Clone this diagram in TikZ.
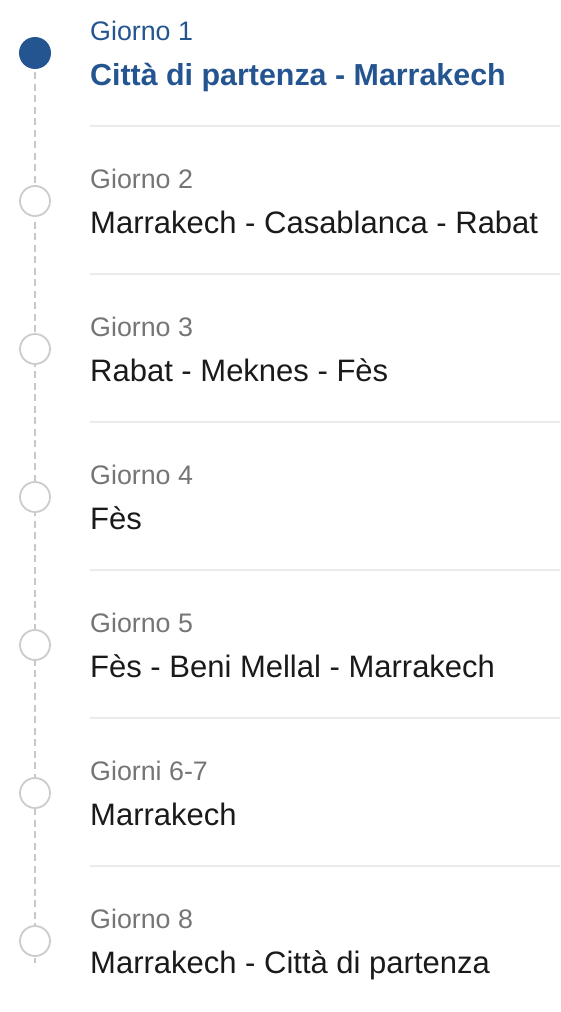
\documentclass[tikz,border=0pt]{standalone}
\usepackage{fontspec}
\setmainfont{Liberation Sans}
\definecolor{tlblue}{HTML}{245591}
\definecolor{tlgray}{HTML}{757575}
\definecolor{tltext}{HTML}{1A1A1A}
\definecolor{tlring}{HTML}{CCCCCC}
\definecolor{tldash}{HTML}{C8C8C8}
\definecolor{tlsep}{HTML}{EBEBEB}
\begin{document}
\begin{tikzpicture}[x=1pt,y=-1pt,
  daylabel/.style={anchor=base west,inner sep=0pt,text=tlgray,font=\fontsize{26.8}{30}\selectfont},
  daytitle/.style={anchor=base west,inner sep=0pt,text=tltext,font=\fontsize{31}{34}\selectfont},
  curtitle/.style={anchor=base west,inner sep=0pt,text=tlblue,font=\bfseries\fontsize{30.4}{34}\selectfont},
  curlabel/.style={daylabel,text=tlblue},
  ring/.style={circle,draw=tlring,line width=1.8pt,fill=white,minimum size=30pt,inner sep=0pt},
  curdot/.style={circle,fill=tlblue,minimum size=32pt,inner sep=0pt},
  railline/.style={draw=tldash,line width=1.6pt,dash pattern=on 7pt off 4.5pt},
  sepline/.style={draw=tlsep,line width=2pt}]
\useasboundingbox (0,0) rectangle (560,1012);
\fill[white] (0,0) rectangle (560,1012);
% rail
\coordinate (railend) at (35,963);
\coordinate (railtop) at (35,72);
\draw[railline] (railtop) -- (railend);
% markers
\node[curdot] (d1) at (35,53) {};
\foreach \i in {2,...,8}{
  \node[ring] (d\i) at (35,{53+148*(\i-1)}) {};
}
% separators
\foreach \k in {0,...,5}{
  \coordinate (sa\k) at (90,{126+148*\k});
  \coordinate (sb\k) at (560,{126+148*\k});
  \draw[sepline] (sa\k) -- (sb\k);
}
% texts
\node[curlabel] (l1) at (90,40) {Giorno 1};
\node[curtitle] (t1) at (90,85) {Città di partenza - Marrakech};
\node[daylabel] (l2) at (90,188) {Giorno 2};
\node[daytitle] (t2) at (90,233) {Marrakech - Casablanca - Rabat};
\node[daylabel] (l3) at (90,336) {Giorno 3};
\node[daytitle] (t3) at (90,381) {Rabat - Meknes - Fès};
\node[daylabel] (l4) at (90,484) {Giorno 4};
\node[daytitle] (t4) at (90,529) {Fès};
\node[daylabel] (l5) at (90,632) {Giorno 5};
\node[daytitle] (t5) at (90,677) {Fès - Beni Mellal - Marrakech};
\node[daylabel] (l6) at (90,780) {Giorni 6-7};
\node[daytitle] (t6) at (90,825) {Marrakech};
\node[daylabel] (l7) at (90,928) {Giorno 8};
\node[daytitle] (t7) at (90,973) {Marrakech - Città di partenza};
\end{tikzpicture}
\end{document}
